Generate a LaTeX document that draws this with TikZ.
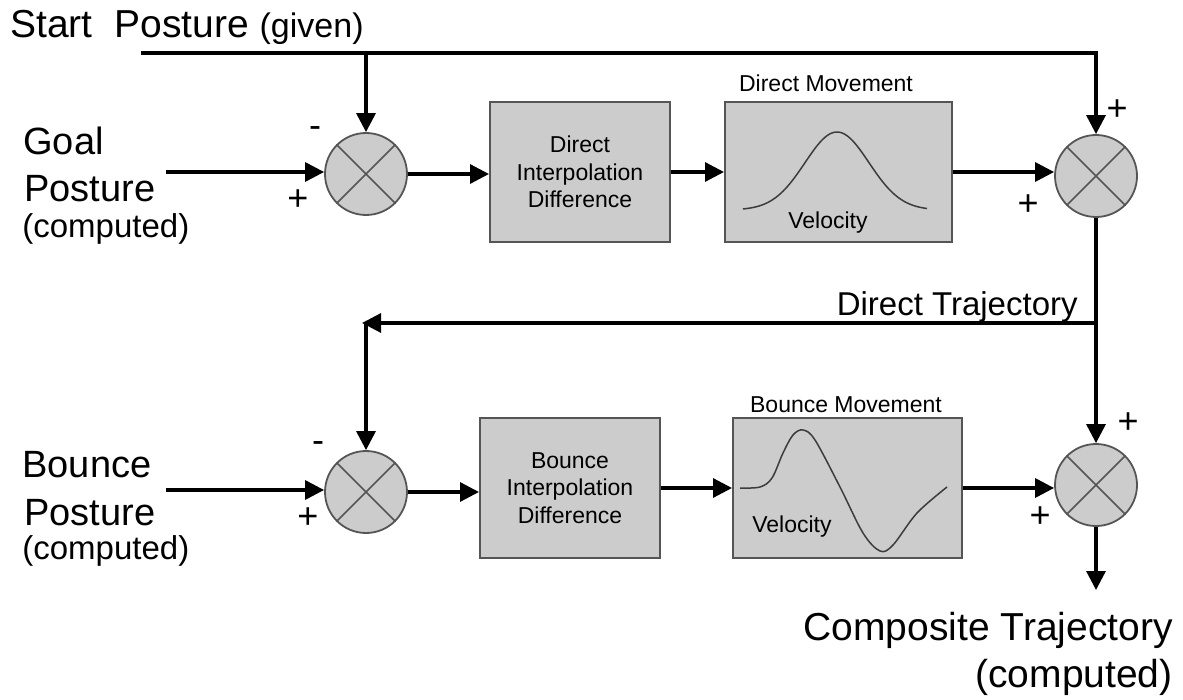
\documentclass[tikz,border=0pt]{standalone}
\usepackage{fontspec}
\setmainfont{Liberation Sans}
\usetikzlibrary{arrows.meta,calc}
\definecolor{boxfill}{RGB}{204,204,204}
\definecolor{edgecol}{RGB}{85,85,85}
\definecolor{curvecol}{RGB}{60,60,60}
\begin{document}
\begin{tikzpicture}[x=0.5pt,y=-0.5pt,
  sumnode/.style={circle,draw=edgecol,line width=0.9pt,fill=boxfill,minimum size=41pt,inner sep=0pt},
  blk/.style={rectangle,draw=edgecol,line width=1pt,fill=boxfill,minimum height=70pt,align=center,
              font=\fontsize{11.5}{13.8}\selectfont,inner sep=0pt},
  flow/.style={line width=1.6pt,-{Triangle[length=9.5pt,width=9.5pt]}},
  bigtxt/.style={font=\fontsize{19}{22}\selectfont,inner sep=0pt,anchor=base west},
  medtxt/.style={font=\fontsize{16.5}{20}\selectfont,inner sep=0pt,anchor=base west},
  smtxt/.style={font=\fontsize{11.5}{13.8}\selectfont,inner sep=0pt},
  sign/.style={font=\fontsize{18}{21}\selectfont,inner sep=0pt},
  curve/.style={draw=curvecol,line width=0.75pt}
]
\useasboundingbox (0,0) rectangle (1183,700);

% summing junctions
\node[sumnode] (c1) at (366,174) {};
\node[sumnode] (c2) at (1096,176) {};
\node[sumnode] (c3) at (366,492) {};
\node[sumnode] (c4) at (1096,485) {};
\foreach \c in {c1,c2,c3,c4}{
  \draw[edgecol,line width=0.8pt] (\c.45) -- (\c.225) (\c.135) -- (\c.315);
}

% blocks
\node[blk,minimum width=90pt] (b1) at (580,172) {Direct\\Interpolation\\Difference};
\node[blk,minimum width=113.5pt] (b2) at (838.5,172) {};
\node[blk,minimum width=90pt] (b3) at (570,488) {Bounce\\Interpolation\\Difference};
\node[blk,minimum width=114.5pt] (b4) at (847.5,488) {};

\node[smtxt,anchor=base] (dm) at (826,92) {Direct Movement};
\node[smtxt,anchor=base] (bm) at (846,412) {Bounce Movement};
\node[smtxt] (v1) at (828,223) {Velocity};
\node[smtxt] (v2) at (792,527) {Velocity};

% velocity curves
\draw[curve] plot[domain=-94:90,samples=80] ({837+\x},{210-78*exp(-0.00048828*(\x)*(\x))});
\draw[curve] plot[smooth,tension=0.55] coordinates {(740,488) (760,487) (772,478) (783,453) (793,435) (803,430) (815,440) (840,487) (863,533) (880,551) (893,545) (917,513) (947,487)};

% texts
\node[bigtxt,font=\fontsize{19.5}{22}\selectfont] (start) at (10,38) {Start\ \ Posture {\fontsize{17}{20}\selectfont(given)}};
\node[bigtxt] (g1) at (23,155) {Goal};
\node[bigtxt] (g2) at (24,202) {Posture};
\node[medtxt] (g3) at (22,238) {(computed)};
\node[bigtxt] (p1) at (22,477) {Bounce};
\node[bigtxt] (p2) at (24,525) {Posture};
\node[medtxt] (p3) at (22,559) {(computed)};
\node[medtxt,anchor=base east] (dtl) at (1078,315) {Direct Trajectory};
\node[font=\fontsize{19.5}{23}\selectfont,inner sep=0pt,anchor=base east] (ct1) at (1173,640) {Composite Trajectory};
\node[font=\fontsize{19.5}{23}\selectfont,inner sep=0pt,anchor=base east] (ct2) at (1173,687) {(computed)};

% signs
\node[sign] (s1) at (315,132) {-};
\node[sign] (s2) at (298,200) {+};
\node[sign] (s3) at (1117,110) {+};
\node[sign] (s4) at (1028,205) {+};
\node[sign] (s5) at (318,447) {-};
\node[sign] (s6) at (308,518) {+};
\node[sign] (s7) at (1128,423) {+};
\node[sign] (s8) at (1040,517) {+};

% connectors
\coordinate (s0) at (141,53);
\draw[flow] (s0) -- (s0 -| c2) -- (c2.north);
\draw[flow] (s0 -| c1) -- (c1.north);
\coordinate (g0) at (166,172);
\draw[flow] (g0) -- (g0 -| c1.west);
\draw[flow] (c1.east) -- (c1.east -| b1.west);
\draw[flow] (b1.east) -- (b2.west);
\draw[flow] (b2.east) -- (b2.east -| c2.west);

\draw[flow] (c2.south) -- (c4.north);
\coordinate (dt) at (362,323);
\draw[flow] (dt -| c2) -- (dt);
\draw[flow] (dt -| c3) -- (c3.north);

\coordinate (bp) at (166,490);
\draw[flow] (bp) -- (bp -| c3.west);
\draw[flow] (c3.east) -- (c3.east -| b3.west);
\draw[flow] (b3.east) -- (b4.west);
\draw[flow] (b4.east) -- (b4.east -| c4.west);
\coordinate (out) at (1096,590);
\draw[flow] (c4.south) -- (out);
\end{tikzpicture}
\end{document}
